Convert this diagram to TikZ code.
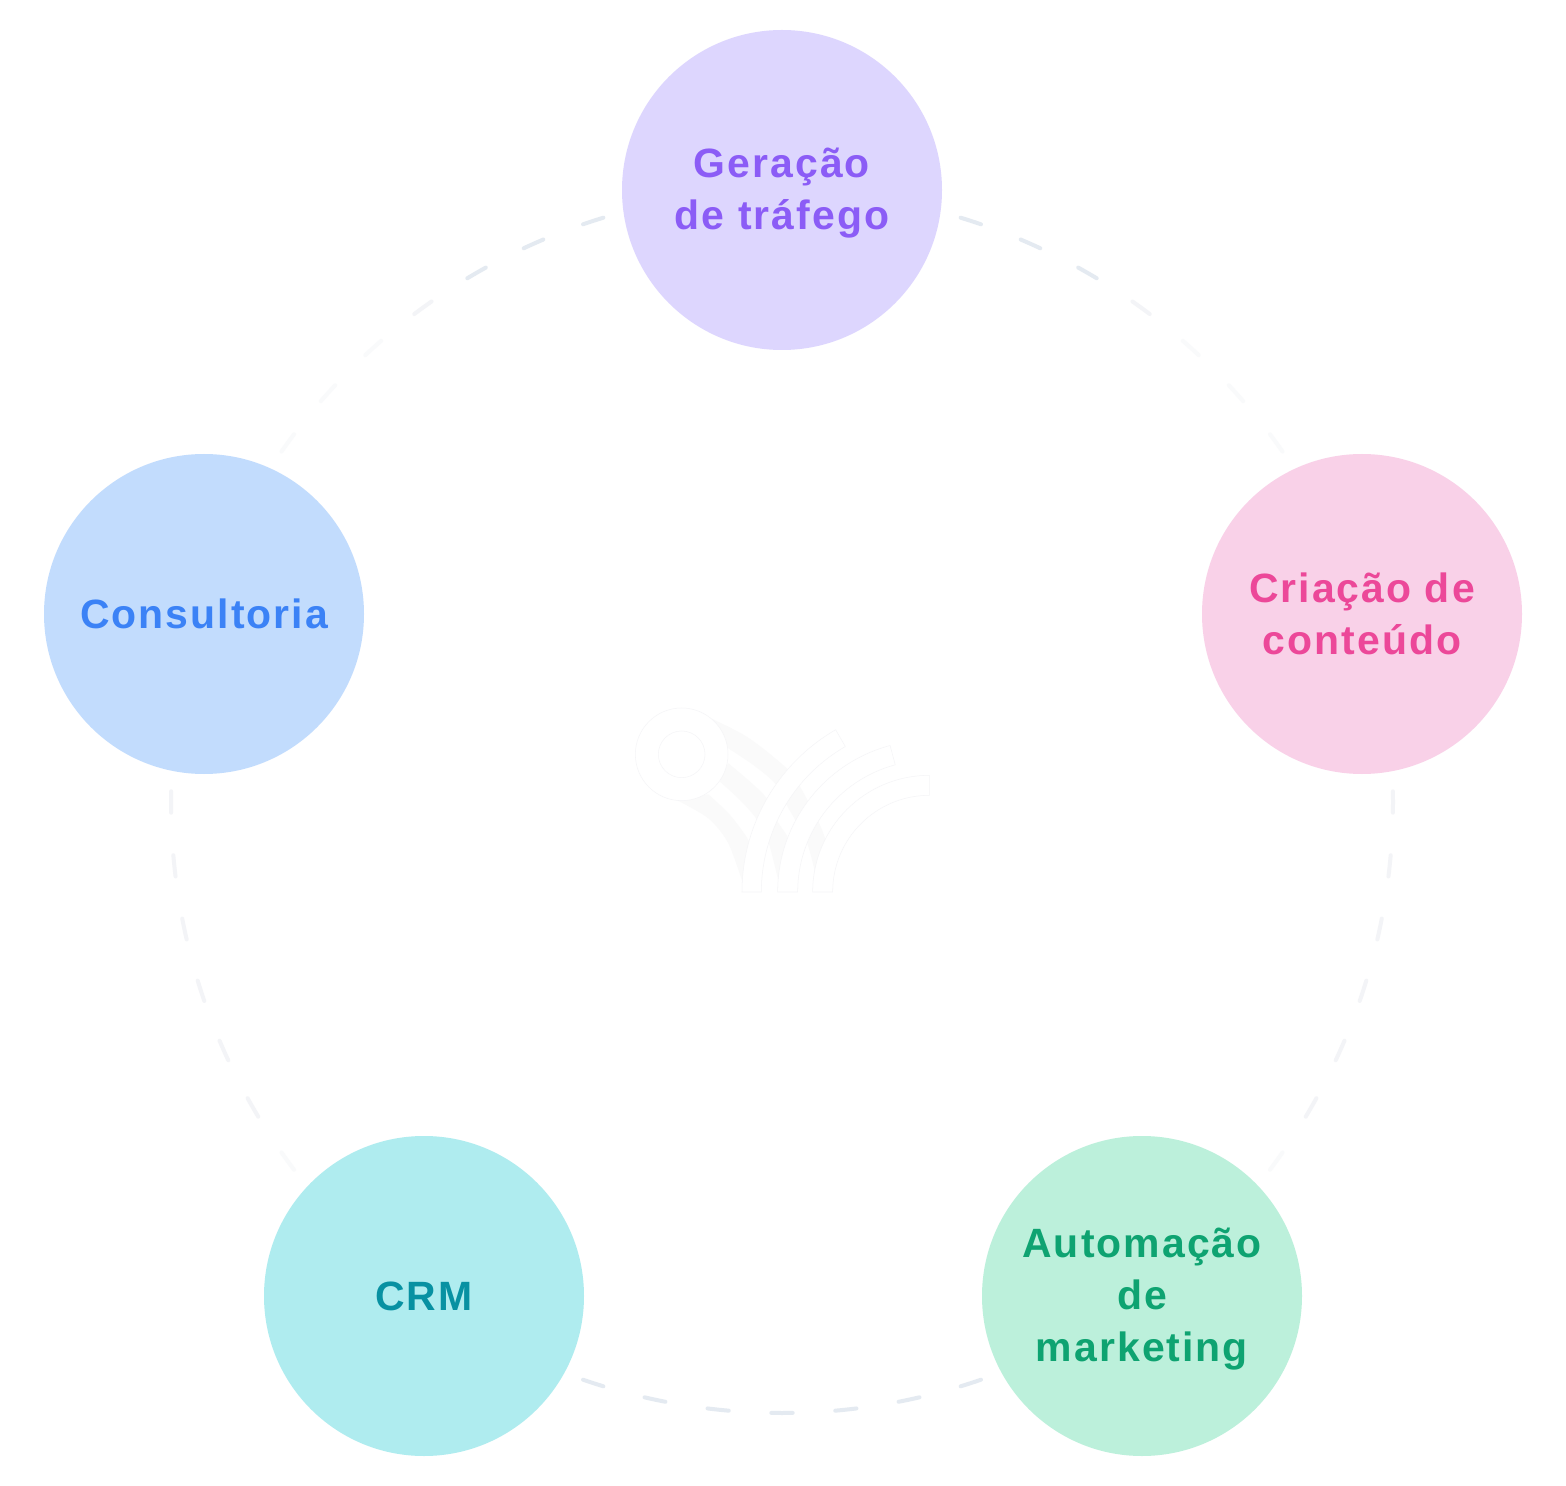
\documentclass[tikz,border=0pt]{standalone}
\usepackage{fontspec}
\setmainfont{Liberation Sans}
\newfontfamily\labelfont[LetterSpace=5]{Liberation Sans}
\usetikzlibrary{positioning}

\definecolor{dashtop}{HTML}{E4EAF1}
\definecolor{dashmid}{HTML}{F3F4F7}
\definecolor{dashpale}{HTML}{F9FAFB}
\definecolor{logofill}{HTML}{FAFAFA}
\definecolor{logoline}{HTML}{F5F5F7}

\newcommand{\linetop}{\rule{0pt}{20.5pt}}

\tikzset{
  topic/.style={circle, minimum size=320*0.02cm, inner sep=0pt, align=center,
    font=\labelfont\bfseries\fontsize{23.3}{29.6}\selectfont},
  ringdash/.style={line width=0.08cm, line cap=round},
  logoarc/.style={fill=white, draw=logoline, line width=0.3pt}
}

\begin{document}
\begin{tikzpicture}[x=0.02cm, y=-0.02cm]

    \def\ringr{611}
    % page
    \fill[white] (0,0) rectangle (1566,1486);
    \useasboundingbox (0,0) rectangle (1566,1486);
    \coordinate (ringc) at (782,802);

    % dashed ring
    \foreach \a/\c in {-72/dashtop,-66/dashtop,-60/dashtop,-54/dashmid,-48/dashpale,-42/dashpale,-36/dashpale,
                       252/dashtop,246/dashtop,240/dashtop,234/dashmid,228/dashpale,222/dashpale,216/dashpale,
                       0/dashmid,6/dashmid,12/dashmid,18/dashmid,24/dashmid,30/dashmid,36/dashpale,
                       180/dashmid,174/dashmid,168/dashmid,162/dashmid,156/dashmid,150/dashmid,144/dashpale,
                       72/dashtop,78/dashtop,84/dashtop,90/dashtop,96/dashtop,102/dashtop,108/dashtop}
      \draw[ringdash, draw=\c] ([shift={(ringc)}]\a-1:\ringr) arc[start angle=\a-1, end angle=\a+1, radius=\ringr];

    % logo in the middle
    \begin{scope}[shift={(620,690)}, scale=1/3]
      \fill[logofill] plot[smooth] coordinates {(240,70) (380,140) (500,235) (540,290) (595,395) (615,445) (630,500)}
        -- plot[smooth] coordinates {(590,570) (560,455) (500,345) (465,280) (400,225) (325,175)} -- cycle;
      \fill[logofill] plot[smooth] coordinates {(325,220) (390,275) (440,325) (470,390) (505,445) (515,490)}
        -- plot[smooth] coordinates {(485,590) (475,570) (445,455) (408,385) (360,330) (300,275)} -- cycle;
      \fill[logofill] plot[smooth] coordinates {(265,313) (330,375) (385,450) (400,500)}
        -- plot[smooth] coordinates {(372,590) (325,460) (265,385) (170,330)} -- cycle;
      \foreach \rin/\rout/\ang in {504/562/240, 395/455/255, 290/350/270}
        \draw[logoarc] (928-\rout,606) arc[start angle=180, end angle=\ang, radius=\rout]
          -- ([shift={(928,606)}]\ang:\rin) arc[start angle=\ang, end angle=180, radius=\rin] -- cycle;
      \draw[logoarc] (185,193) circle[radius=139];
      \draw[logoarc] (185,193) circle[radius=70];
    \end{scope}

    % topics
    \node[topic, fill={rgb,255:red,221;green,214;blue,254}, text={rgb,255:red,139;green,92;blue,246}] (trafego) at (782,190) {\linetop Geração\\de tráfego};
    \node[topic, fill={rgb,255:red,249;green,209;blue,232}, text={rgb,255:red,236;green,72;blue,153}] (conteudo) at (1362,614) {Criação de\\conteúdo};
    \node[topic, fill={rgb,255:red,188;green,240;blue,219}, text={rgb,255:red,14;green,163;blue,113}] (automacao) at (1142,1296) {\linetop Automação\\de\\marketing};
    \node[topic, fill={rgb,255:red,175;green,236;blue,239}, text={rgb,255:red,8;green,145;blue,162}] (crm) at (424,1296) {CRM};
    \node[topic, fill={rgb,255:red,194;green,220;blue,253}, text={rgb,255:red,59;green,130;blue,246}] (consultoria) at (204,614) {Consultoria};

\end{tikzpicture}
\end{document}
